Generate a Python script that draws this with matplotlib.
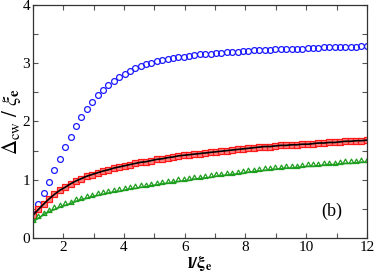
import matplotlib
matplotlib.use("Agg")
import matplotlib.pyplot as plt
from matplotlib.path import Path
from matplotlib.ticker import MultipleLocator

plt.rcParams['font.family'] = ['Liberation Serif', 'DejaVu Serif']
plt.rcParams['mathtext.fontset'] = 'stix'

# l / xi_e
x = [1.00, 1.18, 1.35, 1.53, 1.71, 1.89, 2.06, 2.24, 2.42, 2.60,
     2.77, 2.95, 3.13, 3.31, 3.48, 3.66, 3.84, 4.02, 4.19, 4.37,
     4.55, 4.73, 4.90, 5.08, 5.26, 5.44, 5.61, 5.79, 5.97, 6.15,
     6.32, 6.50, 6.68, 6.85, 7.03, 7.21, 7.39, 7.56, 7.74, 7.92,
     8.10, 8.27, 8.45, 8.63, 8.81, 8.98, 9.16, 9.34, 9.52, 9.69,
     9.87, 10.05, 10.23, 10.40, 10.58, 10.76, 10.94, 11.11, 11.29, 11.47,
     11.65, 11.82, 12.00]

blue = [0.42, 0.59, 0.77, 0.96, 1.16, 1.36, 1.56, 1.74, 1.92, 2.07,
        2.21, 2.34, 2.45, 2.54, 2.63, 2.70, 2.77, 2.82, 2.87, 2.91,
        2.95, 2.98, 3.01, 3.03, 3.05, 3.07, 3.09, 3.10, 3.11, 3.13,
        3.14, 3.15, 3.16, 3.16, 3.17, 3.18, 3.19, 3.19, 3.20, 3.21,
        3.21, 3.22, 3.22, 3.23, 3.23, 3.24, 3.24, 3.24, 3.25, 3.25,
        3.25, 3.26, 3.26, 3.26, 3.27, 3.27, 3.27, 3.28, 3.28, 3.28,
        3.28, 3.29, 3.29]

red = [0.39, 0.49, 0.58, 0.67, 0.75, 0.82, 0.87, 0.93, 0.98, 1.02,
       1.06, 1.09, 1.12, 1.15, 1.17, 1.20, 1.22, 1.24, 1.26, 1.28,
       1.30, 1.31, 1.33, 1.35, 1.36, 1.38, 1.39, 1.41, 1.42, 1.43,
       1.44, 1.45, 1.46, 1.47, 1.48, 1.49, 1.50, 1.51, 1.52, 1.53,
       1.54, 1.55, 1.56, 1.57, 1.57, 1.58, 1.59, 1.59, 1.60, 1.60,
       1.61, 1.61, 1.62, 1.63, 1.63, 1.64, 1.64, 1.65, 1.66, 1.66,
       1.67, 1.67, 1.68]

# green curve (triangles sit on it)
green = [0.28, 0.34, 0.40, 0.45, 0.49, 0.53, 0.56, 0.59, 0.63, 0.66,
         0.68, 0.71, 0.73, 0.75, 0.77, 0.79, 0.80, 0.82, 0.84, 0.85,
         0.87, 0.88, 0.90, 0.91, 0.93, 0.94, 0.95, 0.97, 0.98, 0.99,
         1.01, 1.02, 1.03, 1.04, 1.06, 1.07, 1.08, 1.09, 1.10, 1.11,
         1.13, 1.14, 1.15, 1.16, 1.17, 1.18, 1.19, 1.20, 1.20, 1.21,
         1.22, 1.23, 1.23, 1.24, 1.25, 1.26, 1.26, 1.27, 1.28, 1.28,
         1.29, 1.30, 1.30]

# triangle whose base sits on the data point
tri_up = Path([(-1, 0), (1, 0), (0, 1.8), (-1, 0)], closed=True)

fig = plt.figure(figsize=(3.74, 2.75), dpi=100)
ax = fig.add_axes([0.088, 0.1345, 0.893, 0.8475])

ax.plot(x, blue, ls='none', marker='o', ms=4.2, mfc='none', mec='#1a1aff', mew=0.9)
ax.plot(x, red, ls='none', marker='s', ms=4.2, mfc='#ff8080', mec='#ff1a1a', mew=0.9)
ax.plot(x, red, color='black', lw=1.2)
ax.plot(x, green, color='#1e9e1e', lw=1.2)
ax.plot(x, green, ls='none', marker=tri_up, ms=6.3, mfc='none', mec='#1e9e1e', mew=0.9)

ax.set_xlim(1, 12)
ax.set_ylim(0, 4)
ax.xaxis.set_major_locator(MultipleLocator(2))
ax.xaxis.set_minor_locator(MultipleLocator(1))
ax.yaxis.set_major_locator(MultipleLocator(1))
ax.yaxis.set_minor_locator(MultipleLocator(0.5))
ax.tick_params(which='both', direction='in', right=True, top=True,
               length=3.5, width=0.8, color='#555555', labelsize=11, pad=2)
for s in ax.spines.values():
    s.set_color('#333333')
    s.set_linewidth(0.9)

ax.set_xlabel(r'$\mathbf{l/\xi_e}$', fontsize=12.5, labelpad=0)
ax.set_ylabel(r'$\mathrm{\Delta_{cw}}\ /\ \xi_{\mathbf{e}}$', fontsize=15, labelpad=0)
ax.text(10.85, 0.45, '(b)', fontsize=13, ha='center', va='center')

fig.savefig('out.png', dpi=100)
